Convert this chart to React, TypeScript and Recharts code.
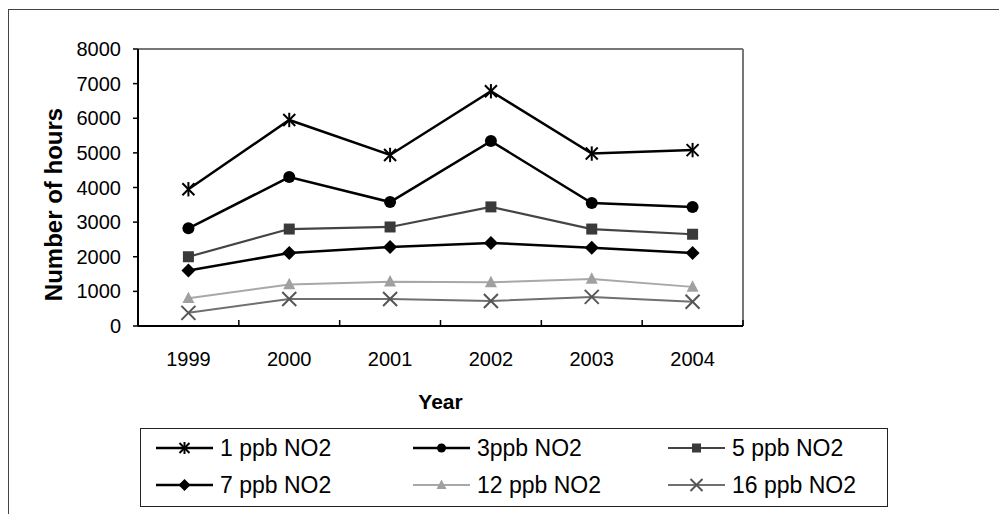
import React from 'react';
import { LineChart, Line, XAxis, YAxis, Legend, ReferenceLine } from 'recharts';

const years = ['1999', '2000', '2001', '2002', '2003', '2004'];
const ppb1 = [3950, 5950, 4940, 6780, 4980, 5080];
const ppb3 = [2820, 4300, 3580, 5340, 3550, 3440];
const ppb5 = [2000, 2800, 2860, 3440, 2800, 2650];
const ppb7 = [1600, 2110, 2280, 2400, 2260, 2110];
const ppb12 = [800, 1200, 1280, 1260, 1360, 1130];
const ppb16 = [380, 780, 780, 720, 840, 700];
const yTicks = [0, 1000, 2000, 3000, 4000, 5000, 6000, 7000, 8000];
const seriesNames = ['1 ppb NO2', '3ppb NO2', '5 ppb NO2', '7 ppb NO2', '12 ppb NO2', '16 ppb NO2'];

const data = years.map((y, i) => ({
  x: i + 1,
  year: y,
  s1: ppb1[i],
  s3: ppb3[i],
  s5: ppb5[i],
  s7: ppb7[i],
  s12: ppb12[i],
  s16: ppb16[i],
}));

type Shape = 'star' | 'circle' | 'square' | 'diamond' | 'triangle' | 'x';

const series: { key: string; name: string; shape: Shape; line: string; mark: string; width: number }[] = [
  { key: 's1', name: seriesNames[0], shape: 'star', line: '#000', mark: '#000', width: 2.5 },
  { key: 's3', name: seriesNames[1], shape: 'circle', line: '#000', mark: '#000', width: 2.5 },
  { key: 's5', name: seriesNames[2], shape: 'square', line: '#444', mark: '#3a3a3a', width: 2.2 },
  { key: 's7', name: seriesNames[3], shape: 'diamond', line: '#000', mark: '#000', width: 2.5 },
  { key: 's12', name: seriesNames[4], shape: 'triangle', line: '#a8a8a8', mark: '#a0a0a0', width: 2 },
  { key: 's16', name: seriesNames[5], shape: 'x', line: '#707070', mark: '#555', width: 2 },
];

const FONT = '"Liberation Sans", Arial, Helvetica, sans-serif';

function marker(shape: Shape, cx: number, cy: number, color: string, s: number) {
  switch (shape) {
    case 'star':
      return (
        <g stroke={color} strokeWidth={2}>
          <line x1={cx - s} y1={cy - s} x2={cx + s} y2={cy + s} />
          <line x1={cx - s} y1={cy + s} x2={cx + s} y2={cy - s} />
          <line x1={cx} y1={cy - s * 1.2} x2={cx} y2={cy + s * 1.2} />
        </g>
      );
    case 'circle':
      return <circle cx={cx} cy={cy} r={s} fill={color} />;
    case 'square':
      return <rect x={cx - s} y={cy - s} width={s * 2} height={s * 2} fill={color} />;
    case 'diamond':
      return <polygon points={`${cx},${cy - s} ${cx + s},${cy} ${cx},${cy + s} ${cx - s},${cy}`} fill={color} />;
    case 'triangle':
      return <polygon points={`${cx},${cy - s * 1.1} ${cx + s},${cy + s * 0.8} ${cx - s},${cy + s * 0.8}`} fill={color} />;
    case 'x':
    default:
      return (
        <g stroke={color} strokeWidth={2}>
          <line x1={cx - s} y1={cy - s} x2={cx + s} y2={cy + s} />
          <line x1={cx - s} y1={cy + s} x2={cx + s} y2={cy - s} />
        </g>
      );
  }
}

const chartSize: Record<Shape, number> = { star: 6, circle: 6, square: 5.5, diamond: 7, triangle: 6, x: 7 };
const legendSize: Record<Shape, number> = { star: 5, circle: 4.5, square: 4.5, diamond: 6, triangle: 5, x: 6 };

const XTick = (props: any) => {
  const { x, y, payload } = props;
  const v = payload.value;
  if (Number.isInteger(v)) {
    return (
      <text x={x} y={y + 40} textAnchor="middle" fontSize={20} fontFamily={FONT} fill="#000">
        {years[v - 1]}
      </text>
    );
  }
  return <line x1={x} x2={x} y1={y} y2={y - 6} stroke="#000" strokeWidth={1.5} />;
};

const LegendBox = () => {
  const colLeft = [15, 272, 527];
  const rowTop = [6, 43];
  return (
    <div
      style={{
        position: 'relative',
        width: 748,
        height: 79,
        border: '1.5px solid #222',
        boxSizing: 'border-box',
        background: '#fff',
        fontFamily: FONT,
      }}
    >
      {series.map((s, i) => {
        const col = i % 3;
        const row = Math.floor(i / 3);
        return (
          <div
            key={s.key}
            style={{
              position: 'absolute',
              left: colLeft[col],
              top: rowTop[row],
              height: 26,
              display: 'flex',
              alignItems: 'center',
              whiteSpace: 'nowrap',
            }}
          >
            <svg width={57} height={20} style={{ display: 'block' }}>
              <line x1={0} x2={57} y1={10} y2={10} stroke={s.line} strokeWidth={s.width} />
              {marker(s.shape, 28.5, 10, s.mark, legendSize[s.shape])}
            </svg>
            <span style={{ marginLeft: 7, fontSize: 23, color: '#000' }}>{s.name}</span>
          </div>
        );
      })}
    </div>
  );
};

export default function App() {
  return (
    <div style={{ position: 'relative', width: 999, height: 506 }}>
      <div
        style={{
          position: 'absolute',
          left: 0,
          top: 1,
          width: 999,
          height: 505,
          borderTop: '1.5px solid #444',
          borderLeft: '1.5px solid #444',
          boxSizing: 'border-box',
        }}
      />
      <LineChart
        width={999}
        height={506}
        data={data}
        margin={{ top: 41, right: 264, bottom: 158, left: 70 }}
        style={{ position: 'absolute', left: 0, top: 0 }}
      >
        <XAxis
          dataKey="x"
          type="number"
          domain={[0.5, 6.5]}
          ticks={[0.5, 1, 1.5, 2, 2.5, 3, 3.5, 4, 4.5, 5, 5.5, 6, 6.5]}
          interval={0}
          tickSize={0}
          tickMargin={0}
          tickLine={false}
          tick={<XTick />}
          height={30}
          axisLine={{ stroke: '#000', strokeWidth: 2 }}
          label={{
            content: (p: any) => {
              const vb = p.viewBox;
              return (
                <text x={vb.x + vb.width / 2} y={vb.y + 83} textAnchor="middle" fontSize={21} fontWeight="bold" fontFamily={FONT} fill="#000">
                  Year
                </text>
              );
            },
          }}
        />
        <YAxis
          domain={[0, 8000]}
          ticks={yTicks}
          interval={0}
          width={60}
          tickSize={5}
          tickMargin={12}
          tick={{ fontSize: 20, fontFamily: FONT, fill: '#000' }}
          tickLine={{ stroke: '#000', strokeWidth: 1.5 }}
          axisLine={{ stroke: '#000', strokeWidth: 2 }}
          label={{
            content: (p: any) => {
              const vb = p.viewBox;
              const cx = vb.x - 25;
              const cy = vb.y + vb.height / 2 + 17;
              return (
                <text
                  x={cx}
                  y={cy}
                  transform={`rotate(-90 ${cx} ${cy})`}
                  textAnchor="middle"
                  dominantBaseline="central"
                  fontSize={24}
                  fontWeight="bold"
                  fontFamily={FONT}
                  fill="#000"
                >
                  Number of hours
                </text>
              );
            },
          }}
        />
        <ReferenceLine y={8000} stroke="#777" strokeWidth={2} />
        <ReferenceLine x={6.5} stroke="#777" strokeWidth={2} />
        <Legend
          layout="horizontal"
          verticalAlign="middle"
          align="center"
          content={<LegendBox />}
          wrapperStyle={{ left: 132, top: 420, width: 748, height: 79 }}
        />
        {series.map((s) => (
          <Line
            key={s.key}
            dataKey={s.key}
            name={s.name}
            type="linear"
            stroke={s.line}
            strokeWidth={s.width}
            isAnimationActive={false}
            activeDot={false}
            dot={(p: any) => (
              <g key={`${s.key}-${p.index}`}>{marker(s.shape, p.cx, p.cy, s.mark, chartSize[s.shape])}</g>
            )}
          />
        ))}
      </LineChart>
    </div>
  );
}
